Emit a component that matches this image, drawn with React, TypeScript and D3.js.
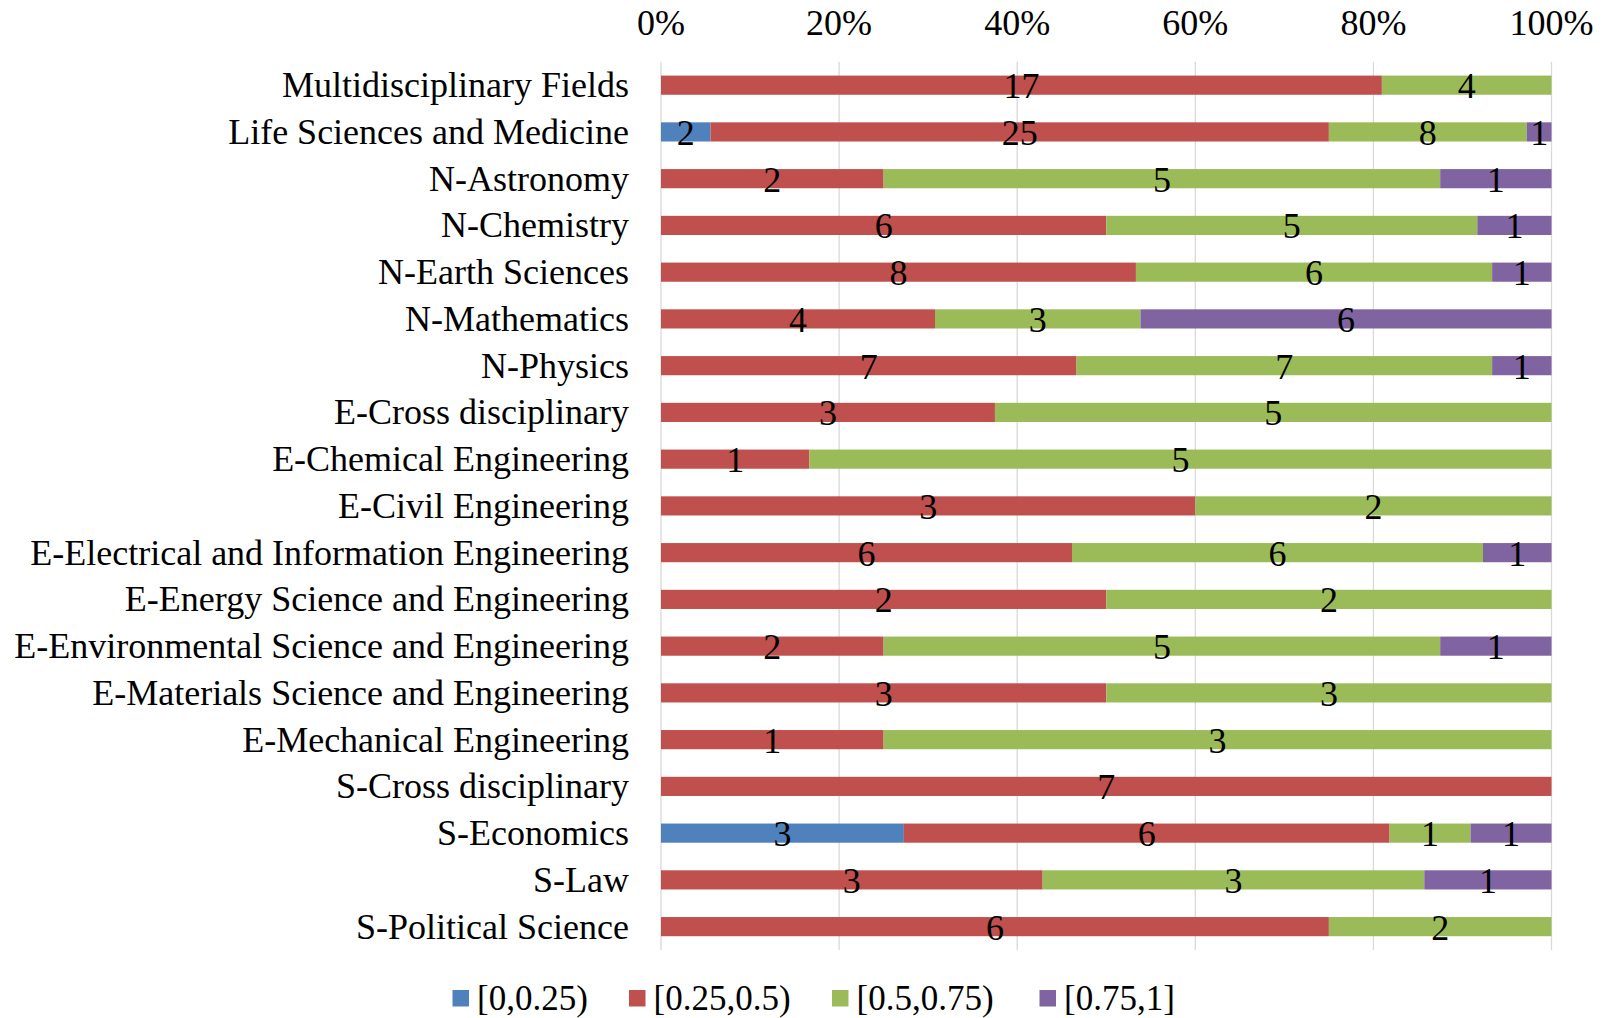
import React from "react";
import * as d3 from "d3";

const categories = [
  "Multidisciplinary Fields",
  "Life Sciences and Medicine",
  "N-Astronomy",
  "N-Chemistry",
  "N-Earth Sciences",
  "N-Mathematics",
  "N-Physics",
  "E-Cross disciplinary",
  "E-Chemical Engineering",
  "E-Civil Engineering",
  "E-Electrical and Information Engineering",
  "E-Energy Science and Engineering",
  "E-Environmental Science and Engineering",
  "E-Materials Science and Engineering",
  "E-Mechanical Engineering",
  "S-Cross disciplinary",
  "S-Economics",
  "S-Law",
  "S-Political Science",
];

const seriesNames = ["[0,0.25)", "[0.25,0.5)", "[0.5,0.75)", "[0.75,1]"];
const seriesColors = ["#4F81BD", "#C0504D", "#9BBB59", "#8064A2"];

const s0 = [0, 2, 0, 0, 0, 0, 0, 0, 0, 0, 0, 0, 0, 0, 0, 0, 3, 0, 0];
const s1 = [17, 25, 2, 6, 8, 4, 7, 3, 1, 3, 6, 2, 2, 3, 1, 7, 6, 3, 6];
const s2 = [4, 8, 5, 5, 6, 3, 7, 5, 5, 2, 6, 2, 5, 3, 3, 0, 1, 3, 2];
const s3 = [0, 1, 1, 1, 1, 6, 1, 0, 0, 0, 1, 0, 1, 0, 0, 0, 1, 1, 0];

const tickValues = [0, 0.2, 0.4, 0.6, 0.8, 1.0];

const W = 1609;
const H = 1018;
const FONT = "'Liberation Serif', 'Times New Roman', serif";

export default function App() {
  const series = [s0, s1, s2, s3];
  const x = d3.scaleLinear().domain([0, 1]).range([661, 1551.5]);
  const y = d3.scaleBand().domain(categories).range([61.8, 950]).paddingInner(0.59).paddingOuter(0.295);
  const bh = y.bandwidth();

  const rows = categories.map((c, i) => {
    const vals = series.map((s) => s[i]);
    const total = d3.sum(vals);
    let cum = 0;
    const segs = vals.map((v, k) => {
      const start = cum / total;
      cum += v;
      const end = cum / total;
      return { v, k, start, end };
    });
    return { c, segs };
  });

  const legendX = [452.5, 629, 832, 1039.5];

  return (
    <svg
      width={W}
      height={H}
      style={{ position: "fixed", left: 0, top: 0, display: "block", background: "#fff" }}
      fontFamily={FONT}
    >
      <rect x={0} y={0} width={W} height={H} fill="#fff" />
      {tickValues.map((t) => (
        <g key={t}>
          <line x1={x(t)} x2={x(t)} y1={61.8} y2={950} stroke="#D9D9D9" strokeWidth={1.3} />
          <text x={x(t)} y={35} textAnchor="middle" fontSize={36} fill="#000">
            {d3.format(".0%")(t)}
          </text>
        </g>
      ))}
      {rows.map((r) => {
        const yc = (y(r.c) as number) + bh / 2;
        return (
          <g key={r.c}>
            <text x={629} y={yc} textAnchor="end" dominantBaseline="central" fontSize={36} fill="#000">
              {r.c}
            </text>
            {r.segs
              .filter((s) => s.v > 0)
              .map((s) => (
                <rect
                  key={s.k}
                  x={x(s.start)}
                  y={y(r.c)}
                  width={x(s.end) - x(s.start)}
                  height={bh}
                  fill={seriesColors[s.k]}
                />
              ))}
            {r.segs
              .filter((s) => s.v > 0)
              .map((s) => (
                <text
                  key={"l" + s.k}
                  x={(x(s.start) + x(s.end)) / 2}
                  y={yc + 1}
                  textAnchor="middle"
                  dominantBaseline="central"
                  fontSize={36}
                  fill="#000"
                >
                  {s.v}
                </text>
              ))}
          </g>
        );
      })}
      {seriesNames.map((n, k) => (
        <g key={n}>
          <rect x={legendX[k]} y={990} width={16.5} height={16.5} fill={seriesColors[k]} />
          <text x={legendX[k] + 24.5} y={998} dominantBaseline="central" fontSize={35} fill="#000">
            {n}
          </text>
        </g>
      ))}
    </svg>
  );
}
